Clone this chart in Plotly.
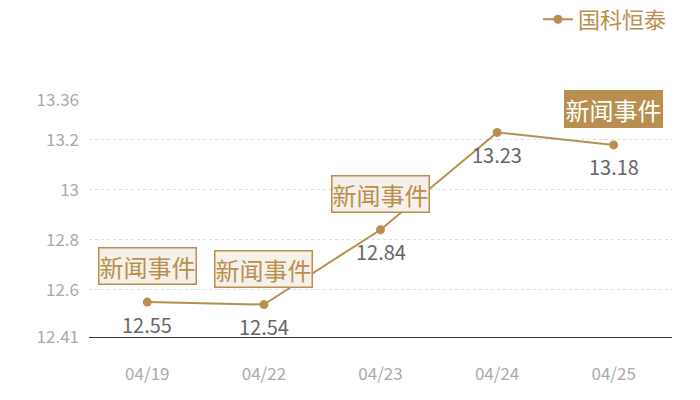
import plotly.graph_objects as go

# 国科恒泰 daily values
dates = ['04/19', '04/22', '04/23', '04/24', '04/25']
prices = [12.55, 12.54, 12.84, 13.23, 13.18]
y_ticks = [12.41, 12.6, 12.8, 13, 13.2, 13.36]

# news event markers
news_dates = ['04/19', '04/22', '04/23', '04/25']
news_prices = [12.55, 12.54, 12.84, 13.18]
news_active = [False, False, False, True]

gold = '#b88f4f'
font_family = 'Noto Sans CJK SC, Noto Sans, sans-serif'

fig = go.Figure()

fig.add_trace(go.Scatter(
    x=dates, y=prices, name='国科恒泰',
    mode='lines+markers',
    line=dict(color=gold, width=2),
    marker=dict(color=gold, size=9),
))

# value labels under the points
for d, p in zip(dates, prices):
    fig.add_annotation(
        x=d, y=p, text=f'{p:.2f}', showarrow=False, yshift=-22,
        font=dict(size=20, color='#666666', family=font_family),
    )

for d, p, active in zip(news_dates, news_prices, news_active):
    fig.add_annotation(
        x=d, y=p, text='新闻事件', showarrow=False,
        yshift=36,
        font=dict(size=24, color='white' if active else gold, family=font_family),
        bgcolor=gold if active else '#f5f0ea',
        bordercolor=gold, borderwidth=1.5, borderpad=0,
    )

# page body has an 8px margin, so the figure is a bit smaller
fig.update_layout(
    width=692, height=392,
    margin=dict(l=81, r=28, t=92, b=63, autoexpand=False),
    paper_bgcolor='white', plot_bgcolor='white',
    font=dict(family=font_family),
    showlegend=True,
    legend=dict(
        orientation='h', x=1.0, xanchor='right', y=1.34, yanchor='middle',
        font=dict(size=22, color=gold, family=font_family),
        bgcolor='rgba(0,0,0,0)', itemwidth=30,
    ),
    xaxis=dict(
        type='category', range=[-0.5, 4.5],
        showgrid=False, showline=True, linecolor='#333333',
        linewidth=1, ticks='', tickfont=dict(size=17, color='#aaaaaa'),
        ticklabelstandoff=22,
    ),
    yaxis=dict(
        range=[12.41, 13.36], tickvals=y_ticks,
        ticktext=[str(v) for v in y_ticks],
        showgrid=True, gridcolor='#dddddd', griddash='dot', gridwidth=1,
        zeroline=False, showline=False, ticks='',
        tickfont=dict(size=17, color='#aaaaaa'), ticklabelstandoff=9,
    ),
)

fig.write_html('out.html')
